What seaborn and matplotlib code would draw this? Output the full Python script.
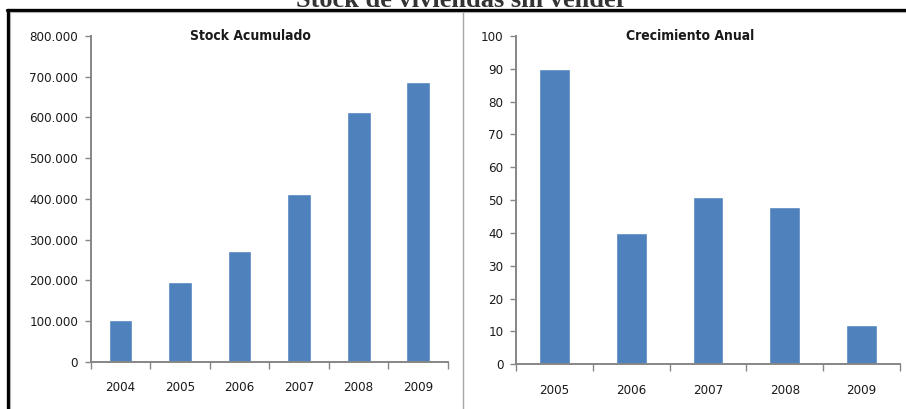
import matplotlib
matplotlib.use("Agg")
import matplotlib.pyplot as plt
from matplotlib.ticker import FuncFormatter, FixedLocator
from matplotlib.lines import Line2D
import seaborn as sns
import pandas as pd

# Stock of unsold homes (cumulative) and its annual growth (%)
years_stock = ["2004", "2005", "2006", "2007", "2008", "2009"]
stock_values = [102800, 196600, 272500, 412000, 613000, 687000]

years_growth = ["2005", "2006", "2007", "2008", "2009"]
growth_values = [90, 40, 51, 48, 12]

stock_yticks = [0, 100000, 200000, 300000, 400000, 500000, 600000, 700000, 800000]
growth_yticks = [0, 10, 20, 30, 40, 50, 60, 70, 80, 90, 100]

main_title = "Stock de viviendas sin vender"
left_title = "Stock Acumulado"
right_title = "Crecimiento Anual"

sns.set_theme(style="white")
plt.rcParams["font.family"] = ["DejaVu Sans"]
plt.rcParams["font.stretch"] = "condensed"

BAR = "#4F81BD"
AXIS = "#868686"
TXT = "#1a1a1a"

W, H = 906, 409
fig = plt.figure(figsize=(W / 100, H / 100), dpi=100)
fig.patch.set_facecolor("white")


def fx(px):
    return px / W


def fy(py):
    return 1 - py / H


ax1 = fig.add_axes([fx(90.7), fy(361.7), fx(448) - fx(90.7), fy(36) - fy(361.7)])
ax2 = fig.add_axes([fx(516), fy(364.3), fx(900) - fx(516), fy(36) - fy(364.3)])

df1 = pd.DataFrame({"year": years_stock, "value": stock_values})
df2 = pd.DataFrame({"year": years_growth, "value": growth_values})

sns.barplot(data=df1, x="year", y="value", order=years_stock, color=BAR,
            width=0.4, saturation=1, ax=ax1)
sns.barplot(data=df2, x="year", y="value", order=years_growth, color=BAR,
            width=0.4, saturation=1, ax=ax2)

thousands = FuncFormatter(lambda v, _: f"{int(v):,}".replace(",", "."))

for ax, cats, yticks, ymax in ((ax1, years_stock, stock_yticks, 800000),
                               (ax2, years_growth, growth_yticks, 100)):
    n = len(cats)
    ax.set_xlim(-0.5, n - 0.5)
    ax.set_ylim(0, ymax)
    ax.set_xlabel("")
    ax.set_ylabel("")
    ax.set_facecolor("white")
    for side in ("top", "right"):
        ax.spines[side].set_visible(False)
    for side in ("left", "bottom"):
        ax.spines[side].set_visible(True)
        ax.spines[side].set_color(AXIS)
        ax.spines[side].set_linewidth(1.4)
    ax.set_yticks(yticks)
    ax.tick_params(axis="y", which="major", left=True, length=4, width=1,
                   color=AXIS, pad=5, labelsize=9.5, labelcolor=TXT)
    # category separators below the x axis
    ax.xaxis.set_minor_locator(FixedLocator([i - 0.5 for i in range(n + 1)]))
    ax.tick_params(axis="x", which="minor", bottom=True, length=5, width=1,
                   color=AXIS)
    ax.tick_params(axis="x", which="major", bottom=True, length=0, pad=14,
                   labelsize=9.5, labelcolor=TXT)
    ax.grid(False)

ax1.yaxis.set_major_formatter(thousands)

fig.text(fx(250), fy(36), left_title, ha="center", va="center",
         fontsize=10, fontweight="bold", color=TXT)
fig.text(fx(690), fy(36), right_title, ha="center", va="center",
         fontsize=10, fontweight="bold", color=TXT)

# main heading, partly above the top edge
fig.text(fx(462), fy(7), main_title, ha="center", va="baseline",
         fontsize=19, fontweight="bold", family="Liberation Serif",
         fontstretch="normal", color="#333333")

# outer frame and panel divider
fig.add_artist(Line2D([fx(7), 1], [fy(10), fy(10)], color="black", lw=2.4))
fig.add_artist(Line2D([fx(7), 1], [fy(12), fy(12)], color="#b0b0b0", lw=0.8))
fig.add_artist(Line2D([fx(8), fx(8)], [fy(10), 0], color="black", lw=2.4))
fig.add_artist(Line2D([fx(10), fx(10)], [fy(12), 0], color="#b0b0b0", lw=0.8))
fig.add_artist(Line2D([fx(463), fx(463)], [fy(12), 0], color="#a6a6a6", lw=1.0))

fig.savefig("out.png", dpi=100, facecolor="white")
